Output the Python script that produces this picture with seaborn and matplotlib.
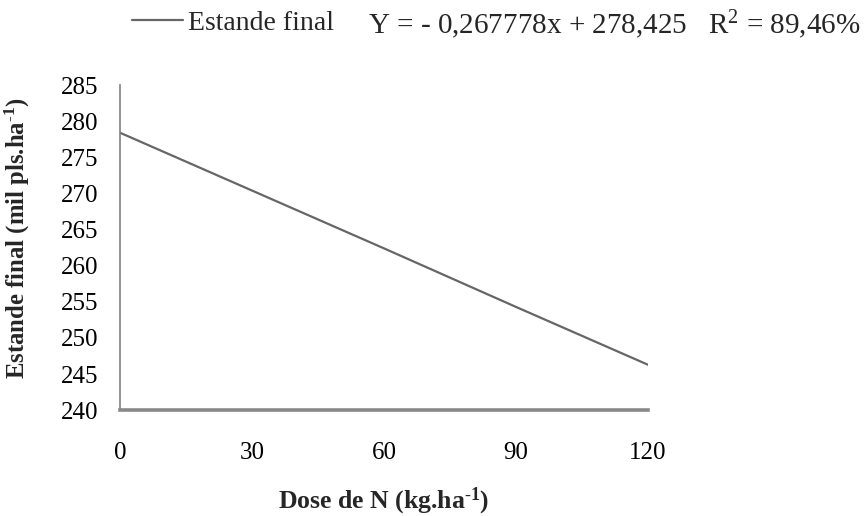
import matplotlib
matplotlib.use("Agg")
import matplotlib.pyplot as plt
import seaborn as sns
import pandas as pd

doses = [0, 30, 60, 90, 120]
estande = [278.4, 270.4, 262.4, 254.3, 246.3]
y_ticks = [240, 245, 250, 255, 260, 265, 270, 275, 280, 285]
x_ticks = [0, 30, 60, 90, 120]

sns.set_theme(style="white")
plt.rcParams['font.family'] = ['Liberation Serif', 'DejaVu Serif']
plt.rcParams['mathtext.fontset'] = 'custom'
plt.rcParams['mathtext.rm'] = 'Liberation Serif'
plt.rcParams['mathtext.it'] = 'Liberation Serif:italic'
plt.rcParams['mathtext.bf'] = 'Liberation Serif:bold'

df = pd.DataFrame({"Dose": doses, "Estande final": estande})

fig = plt.figure(figsize=(8.65, 5.16), dpi=100)
ax = fig.add_axes([0.139, 0.205, 0.61, 0.63])
sns.lineplot(data=df, x="Dose", y="Estande final", ax=ax, color="#666666",
             linewidth=1.6, label="Estande final", legend=False)

ax.set_xlim(0, 120)
ax.set_ylim(240, 285)
ax.set_xticks(x_ticks)
ax.set_yticks(y_ticks)
ax.tick_params(axis='both', length=0, labelsize=18, colors="black")
ax.tick_params(axis='x', pad=23)
ax.tick_params(axis='y', pad=16)
for s in ["top", "right"]:
    ax.spines[s].set_visible(False)
ax.spines["left"].set_color("#808080")
ax.spines["left"].set_linewidth(1.2)
ax.spines["bottom"].set_color("#888888")
ax.spines["bottom"].set_linewidth(2.6)

ax.set_xlabel("Dose de N (kg.ha$^{\\mathbf{\\text{-}1}}$)", fontsize=18.5, fontweight="bold")
ax.xaxis.set_label_coords(0.5, -0.28)
ax.xaxis.label.set_verticalalignment("center")
ax.set_ylabel("Estande final (mil pls.ha$^{\\mathbf{\\text{-}1}}$)", fontsize=17.8, fontweight="bold")
ax.yaxis.set_label_coords(-0.194, 0.53)
ax.yaxis.label.set_verticalalignment("center")

handles, labels = ax.get_legend_handles_labels()
fig.legend(handles, labels, loc="center left", bbox_to_anchor=(0.153, 0.955),
           frameon=False, fontsize=20, handlelength=1.83, handletextpad=0.18,
           borderpad=0, borderaxespad=0)
fig.text(0.425, 0.952, "Y = - 0,267778x + 278,425   R$^2$ = 89,46%", fontsize=21,
         ha="left", va="center")

fig.savefig("out.png", dpi=100)
